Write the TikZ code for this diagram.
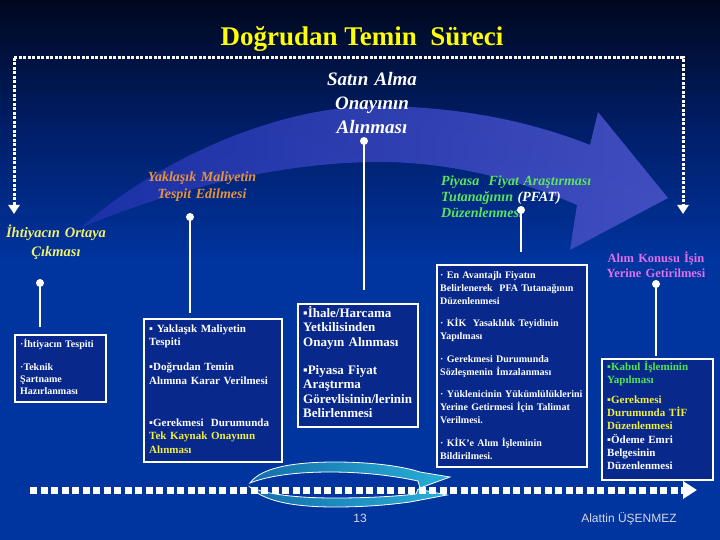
\documentclass[tikz,border=0pt]{standalone}
\usepackage{fontspec}
\setmainfont{Liberation Serif}
\setsansfont{Liberation Sans}
\usetikzlibrary{arrows.meta}
\definecolor{bgblue}{RGB}{0,52,158}
\definecolor{bgmid}{RGB}{0,30,105}
\definecolor{bgtop}{RGB}{0,8,30}
\definecolor{boxfill}{RGB}{8,40,140}
\definecolor{titleyellow}{RGB}{255,255,0}
\definecolor{orangelbl}{RGB}{230,145,60}
\definecolor{greenlbl}{RGB}{90,230,90}
\definecolor{paleyellow}{RGB}{240,240,110}
\definecolor{pinklbl}{RGB}{225,110,235}
\definecolor{boxyellow}{RGB}{240,240,60}
\definecolor{boxgreen}{RGB}{80,230,80}
\definecolor{footgray}{RGB}{215,215,230}
\definecolor{purpleL}{RGB}{30,50,170}
\definecolor{purpleM}{RGB}{92,48,200}
\definecolor{purpleR}{RGB}{72,82,198}
\definecolor{tealA}{RGB}{40,175,215}
\definecolor{tealB}{RGB}{20,110,170}
\tikzset{
  lbl/.style={align=center, inner sep=0pt, anchor=base},
  boxst/.style={draw=white, line width=2.2pt, fill=boxfill, inner sep=0pt, anchor=north west},
  boxtxt/.style={align=left, inner sep=0pt, anchor=base west, text=white},
  pin/.style={circle, fill=white, inner sep=0pt, minimum size=8pt},
  stem/.style={white, line width=2pt},
  frame/.style={white, line width=3pt, dash pattern=on 3pt off 1.5pt,
    -{Triangle[width=11pt,length=9pt]}},
  cyclearrow/.style={draw=white, line width=0.8pt, left color=tealB, right color=tealA},
}
\begin{document}
\begin{tikzpicture}[x=1pt,y=-1pt]
\useasboundingbox (0,0) rectangle (720,540);
% background
\fill[bgblue] (0,0) rectangle (720,540);
\shade[top color=bgtop, bottom color=bgblue, middle color=bgmid] (0,0) rectangle (720,260);
% big purple arrow
\shade[left color=purpleL, middle color=purpleM, right color=purpleR, fill opacity=0.9]
  (80,228) .. controls (170,150) and (290,105) .. (380,106)
  .. controls (470,107) and (540,125) .. (590,145)
  -- (598,112) -- (668,198) -- (570,250) -- (577,205)
  .. controls (520,180) and (450,162) .. (380,162)
  .. controls (280,162) and (170,190) .. (80,228) -- cycle;
% title
\node[font=\fontsize{27}{30}\selectfont\bfseries, text=titleyellow, anchor=base] (title) at (362,46) {Doğrudan Temin\ \ Süreci};
% dotted frame
\coordinate (fl) at (14,214);
\coordinate (ftl) at (14,58);
\coordinate (ftr) at (683,58);
\coordinate (fr) at (683,214);
\draw[frame] (ftl) -- (fl);
\draw[frame] (ftl) -- (ftr) -- (fr);
% labels
\node[lbl, text width=130pt, text=white, font=\fontsize{19}{24}\selectfont\bfseries\itshape] (lS) at (372,86) {Satın Alma\\Onayının\\Alınması};
\node[lbl, text width=130pt, text=orangelbl, font=\fontsize{14}{17}\selectfont\bfseries\itshape] (lY) at (202,182) {Yaklaşık Maliyetin\\Tespit Edilmesi};
\node[lbl, anchor=base west, align=left, text width=160pt, text=greenlbl, font=\fontsize{14}{16}\selectfont\bfseries\itshape] (lP) at (441,186) {Piyasa\ \ Fiyat Araştırması\\Tutanağının \textcolor{white}{(PFAT)}\\Düzenlenmesi};
\node[lbl, text width=120pt, text=paleyellow, font=\fontsize{14.5}{19}\selectfont\bfseries\itshape] (lI) at (56,237) {İhtiyacın Ortaya\\Çıkması};
\node[lbl, text width=110pt, text=pinklbl, font=\fontsize{12.5}{15}\selectfont\bfseries] (lA) at (656,262) {Alım Konusu İşin\\Yerine Getirilmesi};
% boxes
\node[boxst, minimum width=91pt, minimum height=67pt] (bA) at (14,334) {};
\node[boxst, minimum width=138pt, minimum height=143pt] (bB) at (143,318) {};
\node[boxst, minimum width=120pt, minimum height=123pt] (bC) at (297,303) {};
\node[boxst, minimum width=150pt, minimum height=202pt] (bD) at (436,264) {};
\node[boxst, minimum width=111pt, minimum height=121pt] (bE) at (601,358) {};
% pins and stems
\node[pin] (pS) at (364,141) {};
\node[pin] (pY) at (190,217) {};
\node[pin] (pP) at (521,210) {};
\node[pin] (pI) at (40,283) {};
\node[pin] (pA) at (656,284) {};
\draw[stem, shorten >=13pt] (pS.center) -- (bC.north -| pS);
\draw[stem, shorten >=5pt] (pY.center) -- (bB.north -| pY);
\draw[stem, shorten >=12pt] (pP.center) -- (bD.north -| pP);
\draw[stem, shorten >=7pt] (pI.center) -- (bA.north -| pI);
\draw[stem, shorten >=2pt] (pA.center) -- (bE.north -| pA);
% box texts
\node[boxtxt, text width=88pt, font=\fontsize{10}{12}\selectfont\bfseries] (tA) at (20,347)
  {·İhtiyacın Tespiti\\[11pt]·Teknik\\Şartname\\Hazırlanması};
\node[boxtxt, text width=135pt, font=\fontsize{11}{13.5}\selectfont\bfseries] (tB) at (149,332)
  {▪ Yaklaşık Maliyetin\\Tespiti\\[11.5pt]▪Doğrudan Temin\\Alımına Karar Verilmesi\\[28.5pt]▪Gerekmesi\ \ Durumunda\\\textcolor{boxyellow}{Tek Kaynak Onayının}\\\textcolor{boxyellow}{Alınması}};
\node[boxtxt, text width=118pt, font=\fontsize{13}{14.5}\selectfont\bfseries] (tC) at (303,317)
  {▪İhale/Harcama\\Yetkilisinden\\Onayın Alınması\\[13.5pt]▪Piyasa Fiyat\\Araştırma\\Görevlisinin/lerinin\\Belirlenmesi};
\node[boxtxt, text width=145pt, font=\fontsize{10}{13}\selectfont\bfseries] (tD) at (440,278)
  {· En Avantajlı Fiyatın\\Belirlenerek\ \ PFA Tutanağının\\Düzenlenmesi\\[9.5pt]· KİK\ \ Yasaklılık Teyidinin\\Yapılması\\[9.5pt]· Gerekmesi Durumunda\\Sözleşmenin İmzalanması\\[9.5pt]· Yüklenicinin Yükümlülüklerini\\Yerine Getirmesi İçin Talimat\\Verilmesi.\\[9.5pt]· KİK'e Alım İşleminin\\Bildirilmesi.};
\node[boxtxt, text width=105pt, font=\fontsize{11}{13.3}\selectfont\bfseries] (tE) at (607,370.5)
  {\textcolor{boxgreen}{▪Kabul İşleminin}\\\textcolor{boxgreen}{Yapılması}\\[6pt]\textcolor{boxyellow}{▪Gerekmesi}\\\textcolor{boxyellow}{Durumunda TİF}\\\textcolor{boxyellow}{Düzenlenmesi}\\▪Ödeme Emri\\Belgesinin\\Düzenlenmesi};
% cycle arrows
\path[cyclearrow]
  (250,483) .. controls (262,466) and (300,462) .. (335,462)
  .. controls (375,462) and (405,467) .. (420,472)
  -- (450,477) -- (420,488) -- (418,481)
  .. controls (390,475) and (360,472) .. (330,472)
  .. controls (295,472) and (268,476) .. (250,483) -- cycle;
\path[cyclearrow]
  (250,487) .. controls (265,503) and (300,507) .. (335,507)
  .. controls (370,507) and (395,504) .. (410,502)
  -- (447,495) -- (418,489) -- (416,494)
  .. controls (390,497) and (360,498) .. (335,498)
  .. controls (295,498) and (265,494) .. (250,487) -- cycle;
% bottom timeline
\coordinate (bl) at (30,490);
\coordinate (br) at (697,490);
\draw[white, line width=7pt, dash pattern=on 7pt off 3.5pt, -{Triangle[width=17pt,length=14pt]}] (bl) -- (br);
% footer
\node[font=\sffamily\fontsize{12}{14}\selectfont, text=footgray, anchor=base] (pg) at (360,522) {13};
\node[font=\sffamily\fontsize{12}{14}\selectfont, text=footgray, anchor=base] (auth) at (629,522) {Alattin ÜŞENMEZ};
\end{tikzpicture}
\end{document}
